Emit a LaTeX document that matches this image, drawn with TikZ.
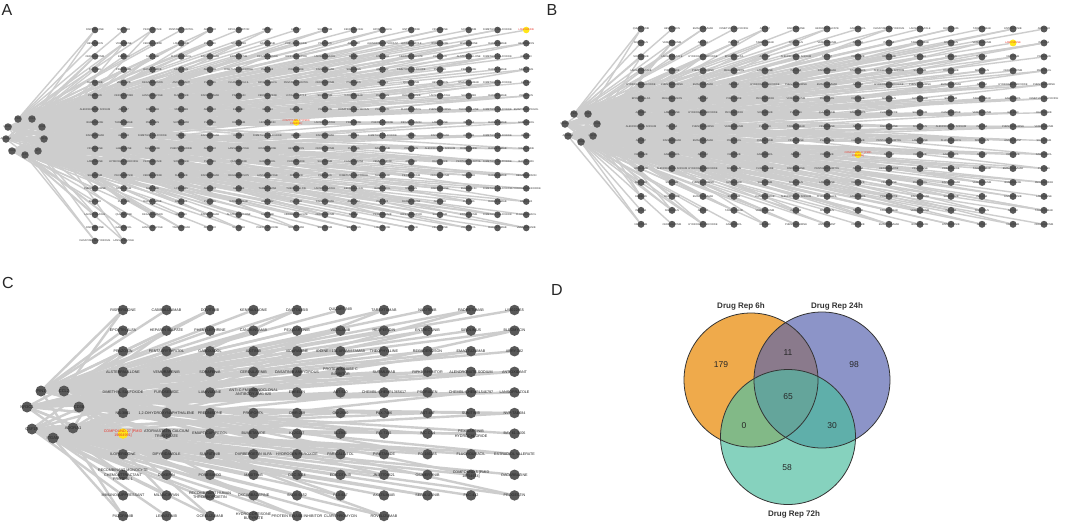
\documentclass[tikz,border=0pt]{standalone}
\usepackage{fontspec}
\setmainfont{Liberation Sans}
\pgfdeclarelayer{bg}
\pgfsetlayers{bg,main}
\definecolor{nodegray}{HTML}{595959}
\definecolor{edgegray}{HTML}{CDCDCD}
\definecolor{hlyellow}{HTML}{FFE619}
\definecolor{hlred}{HTML}{E8352B}
\definecolor{vorange}{HTML}{EFAA4B}
\definecolor{vblue}{HTML}{8C94C8}
\definecolor{vgreen}{HTML}{86D2BE}
\definecolor{vab}{HTML}{8A7A8C}
\definecolor{vac}{HTML}{82B987}
\definecolor{vbc}{HTML}{5FAFAA}
\definecolor{vabc}{HTML}{64A59B}
\tikzset{
  anode/.style={circle,fill=nodegray,minimum size=6.6pt,inner sep=0pt},
  bnode/.style={circle,fill=nodegray,minimum size=7pt,inner sep=0pt},
  cnode/.style={circle,fill=nodegray,minimum size=10.5pt,inner sep=0pt},
  agene/.style={circle,fill=nodegray,minimum size=7.5pt,inner sep=0pt},
  cgene/.style={circle,fill=nodegray,minimum size=11pt,inner sep=0pt},
  ablab/.style={font=\fontsize{2.6}{3}\selectfont,text=black!80,align=center,inner sep=0pt},
  clab/.style={font=\fontsize{3.7}{4.4}\selectfont,text=black!85,align=center,inner sep=0pt},
  cglab/.style={font=\fontsize{4}{4.6}\selectfont,text=black!85,inner sep=0pt},
  thinedge/.style={draw=edgegray,line width=1.4pt},
  thickedge/.style={draw=edgegray,line width=2.4pt},
  panel/.style={font=\fontsize{16}{18}\selectfont,anchor=base west,inner sep=0pt,text=black!85},
  vline/.style={draw=black!80,line width=0.8pt},
  vnum/.style={font=\fontsize{8.5}{10}\selectfont,text=black!85,inner sep=0pt},
  vtitle/.style={font=\bfseries\fontsize{8}{10}\selectfont,text=black!80,inner sep=0pt},
}
\newcommand\abname[1]{\ifcase#1\relax RISPERIDONE\or
CABIRALIZUMAB\or DOVITINIB\or KENPAULLONE\or DACTOLISIB\or QUIZARTINIB\or
TAREXTUMAB\or NILOTINIB\or RADRETUMAB\or LY3022855\or EPOETIN ALFA\or
HEPARIN SULFATE\or PHENYLEPHRINE\or CANAKINUMAB\or PEXIDARTINIB\or VATALANIB\or
HESPERIDIN\or ENTRECTINIB\or SIROLIMUS\or BLEOMYCIN\or PRAZOSIN\or
PENTAERYTHRITOL\or GABOXADOL\or AXITINIB\or VIDARABINE\or THEOPHYLLINE\or
REGADENOSON\or EMACTUZUMAB\or ARRY-382\or ALSTERPAULLONE\or VEMURAFENIB\or
SORAFENIB\or CERDULATINIB\or DASATINIB ANHYDROUS\or SUTIMLIMAB\or RIPK1 INHIBITOR\or
ALENDRONATE SODIUM\or ANTIOXIDANT\or DIMETHYL SULFOXIDE\or FUROSEMIDE\or LAMIVUDINE\or
EMBELIN\or ABT-510\or PSORALEN\or LANSOPRAZOLE\or PREDNISONE\or
PROPOFOL\or GW-2580\or PLX-7486\or AST-487\or SUNITINIB\or
EMAPTICAP PEGOL\or BUMETANIDE\or BLZ945\or IMC-CS4\or BAY 61-3606\or
SULFATINIB\or HYDROGEN PEROXIDE\or PIRETANIDE\or FLUOROURACIL\fi}
\newcommand\genename[1]{\ifcase#1\relax PIN1\or CCL2\or NR3C1\or CD38\or ADORA1\or CSF1R\or ITGAM\or KIT\or FLT3\fi}
\begin{document}
\begin{tikzpicture}[x=1pt,y=-1pt]
\useasboundingbox (0,0) rectangle (1065,523);
\begin{pgfonlayer}{bg}
\fill[white] (0,0) rectangle (1065,523);
\end{pgfonlayer}

% ---------------- panel letters
\node[panel] (labA) at (1.5,15) {A};
\node[panel] (labB) at (546.5,15) {B};
\node[panel] (labC) at (2,288) {C};
\node[panel] (labD) at (551,295) {D};

% ================= PANEL A
\foreach \i/\x/\y in {0/18/119,1/32/119,2/8/127,3/42/127,4/6/139,5/44/139,6/12/151,7/38/151,8/25/155}{
  \node[agene] (ag\i) at (\x,\y) {};
  \node[ablab] at (ag\i) {\genename{\i}};
}
\foreach \r in {0,...,15}{\foreach \c in {0,...,15}{
  \pgfmathsetmacro\xx{95+28.75*\c}
  \pgfmathsetmacro\yy{30+13.2*\r}
  \pgfmathtruncatemacro\k{mod(\r*16+\c*7+\r*\c,60)}
  \pgfmathtruncatemacro\hl{((\r==0)&&(\c==15))||((\r==7)&&(\c==7))}
  \ifnum\hl=1
    \node[anode,fill=hlyellow] (a-\r-\c) at (\xx,\yy) {};
  \else
    \node[anode] (a-\r-\c) at (\xx,\yy) {};
    \node[ablab] at (a-\r-\c) {\abname{\k}};
  \fi
}}
\foreach \c in {0,1}{
  \pgfmathsetmacro\xx{95+28.75*\c}
  \node[anode] (a-16-\c) at (\xx,241) {};
  \pgfmathtruncatemacro\k{mod(33+\c*11,60)}
  \node[ablab] at (a-16-\c) {\abname{\k}};
}
\node[ablab,text=hlred] at (a-0-15) {LAMIVUDINE};
\node[ablab,text=hlred] at (a-7-7) {COMPOUND 27 [PMID\\19664991]};
\begin{pgfonlayer}{bg}
\foreach \r in {0,...,16}{\foreach \c in {0,...,15}{
  \pgfmathtruncatemacro\ok{(\r<16)||(\c<2)}
  \ifnum\ok=1
    \pgfmathtruncatemacro\ga{min(8,int((\r*9+mod(\c,3))/17))}
    \pgfmathtruncatemacro\gb{mod(\ga+1+mod(\c*3+\r,7),9)}
    \pgfmathtruncatemacro\gc{mod(\ga+4+mod(\c+\r*2,3),9)}
    \pgfmathtruncatemacro\two{mod(\r+\c,2)==0}
    \pgfmathtruncatemacro\three{mod(\r*\c,3)==1}
    \draw[thinedge] (ag\ga) -- (a-\r-\c);
    \ifnum\two=1 \draw[thinedge] (ag\gb) -- (a-\r-\c); \fi
    \ifnum\three=1 \draw[thinedge] (ag\gc) -- (a-\r-\c); \fi
  \fi
}}
\end{pgfonlayer}

% ================= PANEL B
\foreach \i/\x/\y in {0/574/114,1/588/114,2/565/124,3/597/124,4/568/136,5/593/136,6/581/142}{
  \node[agene] (bg\i) at (\x,\y) {};
  \node[ablab] at (bg\i) {\genename{\i}};
}
\foreach \r in {0,...,14}{\foreach \c in {0,...,13}{
  \pgfmathsetmacro\xx{641+31*\c}
  \pgfmathsetmacro\yy{29+13.95*\r}
  \pgfmathtruncatemacro\k{mod(\r*13+\c*11+\r*\c+5,60)}
  \pgfmathtruncatemacro\hl{((\r==1)&&(\c==12))||((\r==9)&&(\c==7))}
  \ifnum\hl=1
    \node[bnode,fill=hlyellow] (b-\r-\c) at (\xx,\yy) {};
  \else
    \node[bnode] (b-\r-\c) at (\xx,\yy) {};
    \node[ablab] at (b-\r-\c) {\abname{\k}};
  \fi
}}
\node[ablab,text=hlred] at (b-1-12) {LAMIVUDINE};
\node[ablab,text=hlred] at (b-9-7) {COMPOUND 27 [PMID\\19664991]};
\begin{pgfonlayer}{bg}
\foreach \r in {0,...,14}{\foreach \c in {0,...,13}{
  \pgfmathtruncatemacro\ga{min(6,int((\r*7+mod(\c,3))/15))}
  \pgfmathtruncatemacro\gb{mod(\ga+1+mod(\c*3+\r,5),7)}
  \pgfmathtruncatemacro\gc{mod(\ga+3+mod(\c+\r*2,3),7)}
  \pgfmathtruncatemacro\two{mod(\r+\c,2)==0}
  \pgfmathtruncatemacro\three{mod(\r*\c,3)==1}
  \draw[thinedge] (bg\ga) -- (b-\r-\c);
  \ifnum\two=1 \draw[thinedge] (bg\gb) -- (b-\r-\c); \fi
  \ifnum\three=1 \draw[thinedge] (bg\gc) -- (b-\r-\c); \fi
}}
\end{pgfonlayer}

% ================= PANEL C
\foreach \i/\x/\y/\t in {0/41/391/PIN1,1/64/391/CCL2,2/27/407/NR3C1,3/79/407/CD38,4/73/428/ADORA1,5/32/429/CSF1R,6/53/438/ITGAM}{
  \node[cgene] (cg\i) at (\x,\y) {};
  \node[cglab] at (cg\i) {\t};
}
\foreach \r/\c/\t in {
 0/0/RISPERIDONE,0/1/CABIRALIZUMAB,0/2/DOVITINIB,0/3/KENPAULLONE,0/4/DACTOLISIB,0/5/QUIZARTINIB,0/6/TAREXTUMAB,0/7/NILOTINIB,0/8/RADRETUMAB,0/9/LY3022855,
 1/0/EPOETIN ALFA,1/1/HEPARIN SULFATE,1/2/PHENYLEPHRINE,1/3/CANAKINUMAB,1/4/PEXIDARTINIB,1/5/VATALANIB,1/6/HESPERIDIN,1/7/ENTRECTINIB,1/8/SIROLIMUS,1/9/BLEOMYCIN,
 2/0/PRAZOSIN,2/1/PENTAERYTHRITOL,2/2/GABOXADOL,2/3/AXITINIB,2/4/VIDARABINE,2/5/IODINE I 131 APAMISTAMAB,2/6/THEOPHYLLINE,2/7/REGADENOSON,2/8/EMACTUZUMAB,2/9/ARRY-382,
 3/0/ALSTERPAULLONE,3/1/VEMURAFENIB,3/2/SORAFENIB,3/3/CERDULATINIB,3/4/DASATINIB ANHYDROUS,3/5/{PROTEIN KINASE C\\INHIBITOR},3/6/SUTIMLIMAB,3/7/RIPK1 INHIBITOR,3/8/ALENDRONATE SODIUM,3/9/ANTIOXIDANT,
 4/0/DIMETHYL SULFOXIDE,4/1/FUROSEMIDE,4/2/LAMIVUDINE,4/3/{ANTI-C-FMS MONOCLONAL\\ANTIBODY AMG 820},4/4/EMBELIN,4/5/ABT-510,4/6/CHEMBL-CHEMBL365617,4/7/PSORALEN,4/8/CHEMBL-CHEMBL546797,4/9/LANSOPRAZOLE,
 5/0/NS-3861,5/1/{1,2-DIHYDROXYNAPHTHALENE},5/2/PREDNISONE,5/3/PROPOFOL,5/4/CHIR-258,5/5/GW-2580,5/6/PLX-7486,5/7/AST-487,5/8/SUNITINIB,5/9/NVP-TAE684,
 6/1/{ATORVASTATIN CALCIUM\\TRIHYDRATE},6/2/EMAPTICAP PEGOL,6/3/BUMETANIDE,6/4/KI-20227,6/5/BLZ945,6/6/RG-7155,6/7/IMC-CS4,6/8/{PEXIDARTINIB\\HYDROCHLORIDE},6/9/BAY 61-3606,
 7/0/ILOPERIDONE,7/1/DIPYRIDAMOLE,7/2/SULFATINIB,7/3/DARBEPOETIN ALFA,7/4/HYDROGEN PEROXIDE,7/5/PARICALCITOL,7/6/PIRETANIDE,7/7/PD-166285,7/8/FLUOROURACIL,7/9/ESTRADIOL VALERATE,
 8/0/{RECOMBINANT MONOCYTE\\CHEMOATTRACTANT\\PROTEIN-1},8/1/DOXEPIN,8/2/PONESIMOD,8/3/MASITINIB,8/4/DCC-3014,8/5/EDICOTINIB,8/6/JNJ-7706621,8/7/OSIMERTINIB,8/8/{COMPOUND 5 [PMID\\18754614]},8/9/DACARBAZINE,
 9/0/IMMUNOSUPPRESSANT,9/1/MILNACIPRAN,9/2/{RECOMBINANT HUMAN\\THROMBOPOIETIN},9/3/OXCARBAZEPINE,9/4/SNDX-6352,9/5/PLX-647,9/6/AXATILIMAB,9/7/SERALUTINIB,9/8/PKC-412,9/9/PROGESTIN,
 10/0/PAZOPANIB,10/1/LENVATINIB,10/2/OCRELIZUMAB,10/3/{HYDROCORTISONE\\BUTYRATE},10/4/PROTEIN KINASE INHIBITOR,10/5/CLARITHROMYCIN,10/6/ROVELIZUMAB}{
  \node[cnode] (c-\r-\c) at ({123+43.5*\c},{310+20.6*\r}) {};
  \node[clab] at (c-\r-\c) {\t};
}
\node[cnode,fill=hlyellow] (c-6-0) at (123,433.6) {};
\node[clab,text=hlred] at (c-6-0) {COMPOUND 27 [PMID\\19664991]};
\begin{pgfonlayer}{bg}
\foreach \r in {0,...,10}{\foreach \c in {0,...,9}{
  \pgfmathtruncatemacro\ok{(\r<10)||(\c<7)}
  \ifnum\ok=1
    \pgfmathtruncatemacro\ga{min(6,int((\r*7+mod(\c,3))/11))}
    \pgfmathtruncatemacro\gb{mod(\ga+1+mod(\c*3+\r,5),7)}
    \pgfmathtruncatemacro\two{mod(\r+\c,2)==0}
    \draw[thickedge] (cg\ga) -- (c-\r-\c);
    \ifnum\two=1 \draw[thickedge] (cg\gb) -- (c-\r-\c); \fi
  \fi
}}
\end{pgfonlayer}

% ================= PANEL D (Venn)
\fill[vorange] (751,380) circle (67pt);
\fill[vblue] (822,380) circle (68pt);
\fill[vgreen] (788,437) circle (67.5pt);
\begin{scope}
  \clip (751,380) circle (67pt);
  \fill[vab] (822,380) circle (68pt);
  \fill[vac] (788,437) circle (67.5pt);
\end{scope}
\begin{scope}
  \clip (822,380) circle (68pt);
  \fill[vbc] (788,437) circle (67.5pt);
\end{scope}
\begin{scope}
  \clip (751,380) circle (67pt);
  \clip (822,380) circle (68pt);
  \fill[vabc] (788,437) circle (67.5pt);
\end{scope}
\draw[vline] (751,380) circle (67pt);
\draw[vline] (822,380) circle (68pt);
\draw[vline] (788,437) circle (67.5pt);
\node[vnum] (n179) at (721,365) {179};
\node[vnum] (n11) at (788,353) {11};
\node[vnum] (n98) at (854,365) {98};
\node[vnum] (n65) at (788,397) {65};
\node[vnum] (n0) at (744,426) {0};
\node[vnum] (n30) at (832,426) {30};
\node[vnum] (n58) at (787,468) {58};
\node[vtitle] (t6) at (741,306) {Drug Rep 6h};
\node[vtitle] (t24) at (837,306) {Drug Rep 24h};
\node[vtitle] (t72) at (794,514) {Drug Rep 72h};
\end{tikzpicture}
\end{document}
